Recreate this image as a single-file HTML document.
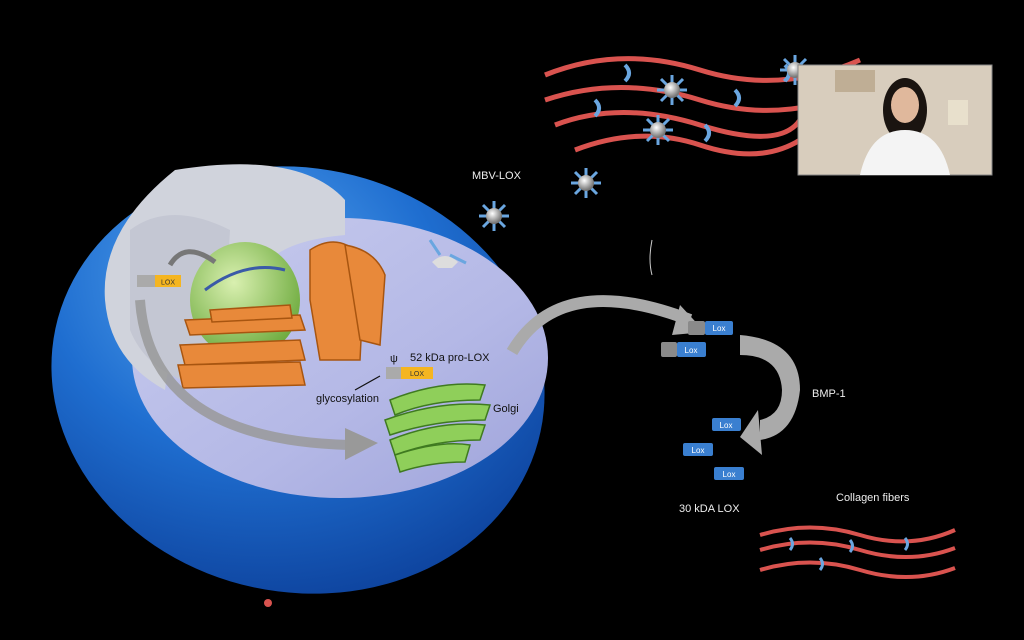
<!DOCTYPE html>
<html><head><meta charset="utf-8"><style>
html,body{margin:0;padding:0;background:#000;width:1024px;height:640px;overflow:hidden}
svg{display:block}
text{font-family:"Liberation Sans",sans-serif}
</style></head><body>
<svg width="1024" height="640" viewBox="0 0 1024 640" xmlns="http://www.w3.org/2000/svg">
<defs>
<radialGradient id="blue" cx="0.35" cy="0.3" r="0.8">
<stop offset="0" stop-color="#5aa8f0"/><stop offset="0.5" stop-color="#1f6ed0"/><stop offset="1" stop-color="#0c3f99"/>
</radialGradient>
<linearGradient id="lav" x1="0" y1="0" x2="1" y2="1">
<stop offset="0" stop-color="#c8ccee"/><stop offset="0.6" stop-color="#b4b8e6"/><stop offset="1" stop-color="#9ea3da"/>
</linearGradient>
<radialGradient id="green" cx="0.4" cy="0.35" r="0.7">
<stop offset="0" stop-color="#d9f0b0"/><stop offset="1" stop-color="#6aa83a"/>
</radialGradient>
<radialGradient id="ball" cx="0.4" cy="0.35" r="0.6">
<stop offset="0" stop-color="#fff"/><stop offset="1" stop-color="#777"/>
</radialGradient>
<g id="spike">
<g stroke="#6aa6e0" stroke-width="3">
<line x1="-15" y1="0" x2="15" y2="0"/><line x1="0" y1="-15" x2="0" y2="15"/>
<line x1="-11" y1="-11" x2="11" y2="11"/><line x1="-11" y1="11" x2="11" y2="-11"/>
</g>
<circle r="8" fill="url(#ball)"/>
</g>
</defs>
<rect width="1024" height="640" fill="#000"/>

<ellipse cx="298" cy="380" rx="248" ry="212" transform="rotate(12 298 380)" fill="url(#blue)"/>
<ellipse cx="340" cy="358" rx="208" ry="140" fill="url(#lav)"/>
<path d="M175 170 Q300 150 345 200 L345 235 Q290 240 270 260 L245 270 Q175 300 165 390 Q110 360 105 300 Q100 230 175 170 Z" fill="#d0d3dc"/>
<path d="M130 230 Q170 200 230 230 L220 390 Q150 380 130 330 Z" fill="#c4c7d3"/>
<ellipse cx="245" cy="300" rx="55" ry="58" fill="url(#green)"/>
<path d="M205 290 Q245 260 285 270" stroke="#3a5aa8" stroke-width="3" fill="none"/>
<path d="M215 262 Q185 240 170 265" stroke="#777" stroke-width="5" fill="none"/>
<g fill="#e8893a" stroke="#a85510" stroke-width="1.5">
<path d="M185 320 L300 315 L305 330 L190 335 Z"/>
<path d="M180 345 L300 340 L305 360 L185 365 Z"/>
<path d="M178 365 L300 362 L305 385 L183 388 Z"/>
<path d="M210 310 L290 305 L292 318 L212 322 Z"/>
<path d="M310 250 Q340 230 365 260 L360 360 L320 360 L310 300 Z"/>
<path d="M345 245 Q375 250 385 275 L380 345 L360 340 Z"/>
</g>
<g fill="#8fcf5a" stroke="#3f7a20" stroke-width="1.5">
<path d="M390 400 Q440 380 485 385 L480 400 Q430 400 395 415 Z"/>
<path d="M385 420 Q440 400 490 405 L485 420 Q435 420 390 435 Z"/>
<path d="M390 440 Q440 420 485 425 L480 440 Q435 440 395 455 Z"/>
<path d="M395 455 Q440 440 470 445 L465 462 Q430 462 400 472 Z"/>
</g>
<path d="M140 300 Q150 440 350 445" stroke="#999" stroke-width="10" fill="none" opacity="0.85"/>
<polygon points="345,428 378,443 345,460" fill="#999"/>
<rect x="137" y="275" width="18" height="12" fill="#aaa"/>
<rect x="155" y="275" width="26" height="12" fill="#f5b520"/>
<text x="168" y="284.5" font-size="7" text-anchor="middle" fill="#333">LOX</text>
<rect x="386" y="367" width="15" height="12" fill="#aaa"/>
<rect x="401" y="367" width="32" height="12" fill="#f5b520"/>
<text x="417" y="376" font-size="7" text-anchor="middle" fill="#333">LOX</text>
<text x="390" y="362" font-size="11" fill="#111">ψ</text>
<text x="410" y="361" font-size="11" fill="#111">52 kDa pro-LOX</text>
<text x="316" y="402" font-size="11" fill="#111">glycosylation</text>
<line x1="355" y1="390" x2="380" y2="376" stroke="#111" stroke-width="1.2"/>
<text x="493" y="412" font-size="11" fill="#111">Golgi</text>
<path d="M432 262 Q445 250 458 262 L452 268 L438 268 Z" fill="#ddd"/>
<line x1="440" y1="255" x2="430" y2="240" stroke="#6aa6e0" stroke-width="3"/>
<line x1="450" y1="255" x2="466" y2="263" stroke="#6aa6e0" stroke-width="3"/>
<path d="M512 352 Q560 270 690 320" stroke="#aaa" stroke-width="12" fill="none"/>
<polygon points="680,305 705,332 672,335" fill="#aaa"/>
<text x="472" y="179" font-size="11" fill="#eee">MBV-LOX</text>
<use href="#spike" x="494" y="216"/>
<use href="#spike" x="586" y="183"/>
<g stroke="#d9534f" stroke-width="5" fill="none">
<path d="M545 75 Q620 45 700 70 T860 60"/>
<path d="M545 100 Q620 75 700 100 T860 90"/>
<path d="M555 125 Q620 100 700 125 T800 120"/>
<path d="M575 150 Q640 125 700 145 T800 140"/>
</g>
<g stroke="#6aa6e0" stroke-width="4" fill="none">
<path d="M625 65 q8 8 0 16"/><path d="M595 100 q8 8 0 16"/><path d="M735 90 q8 8 0 16"/><path d="M705 125 q8 8 0 16"/><path d="M785 65 q8 8 0 16"/>
</g>
<use href="#spike" x="672" y="90"/>
<use href="#spike" x="658" y="130"/>
<use href="#spike" x="795" y="70"/>
<rect x="798" y="65" width="194" height="110" fill="#d8cdbd" stroke="#888"/>
<rect x="835" y="70" width="40" height="22" fill="#bfae95"/>
<rect x="948" y="100" width="20" height="25" fill="#e8e0cc"/>
<ellipse cx="905" cy="110" rx="22" ry="32" fill="#1a1410"/>
<ellipse cx="905" cy="105" rx="14" ry="18" fill="#e0b89c"/>
<path d="M860 175 Q870 130 905 130 Q940 130 950 175 Z" fill="#f4f4f4"/>
<path d="M652 240 Q648 260 652 275" stroke="#ccc" stroke-width="1" fill="none"/>
<g font-size="8" text-anchor="middle" fill="#fff">
<rect x="688" y="321" width="17" height="14" rx="2" fill="#8a8a8a"/><rect x="705" y="321" width="28" height="14" rx="2" fill="#3a7fd0"/><text x="719" y="331">Lox</text>
<rect x="661" y="342" width="16" height="15" rx="2" fill="#8a8a8a"/><rect x="677" y="342" width="29" height="15" rx="2" fill="#3a7fd0"/><text x="691" y="353">Lox</text>
<rect x="712" y="418" width="29" height="13" rx="2" fill="#3a7fd0"/><text x="726" y="428">Lox</text>
<rect x="683" y="443" width="30" height="13" rx="2" fill="#3a7fd0"/><text x="698" y="453">Lox</text>
<rect x="714" y="467" width="30" height="13" rx="2" fill="#3a7fd0"/><text x="729" y="477">Lox</text>
</g>
<path d="M740 335 Q800 340 800 390 Q795 435 760 440 L760 420 Q782 415 782 390 Q780 355 740 355 Z" fill="#aaa"/>
<polygon points="758,410 740,437 762,455" fill="#aaa"/>
<text x="812" y="397" font-size="11" fill="#eee">BMP-1</text>
<text x="679" y="512" font-size="11" fill="#eee">30 kDA LOX</text>
<text x="836" y="501" font-size="11" fill="#eee">Collagen fibers</text>
<g stroke="#d9534f" stroke-width="4" fill="none">
<path d="M760 535 Q810 520 860 535 T955 530"/>
<path d="M760 550 Q810 535 860 550 T955 548"/>
<path d="M760 570 Q810 555 860 570 T955 568"/>
</g>
<g stroke="#6aa6e0" stroke-width="3" fill="none">
<path d="M790 538 q5 6 0 12"/><path d="M850 540 q5 6 0 12"/><path d="M905 538 q5 6 0 12"/><path d="M820 558 q5 6 0 12"/>
</g>
<circle cx="268" cy="603" r="4" fill="#d9534f"/>
</svg>
</body></html>
